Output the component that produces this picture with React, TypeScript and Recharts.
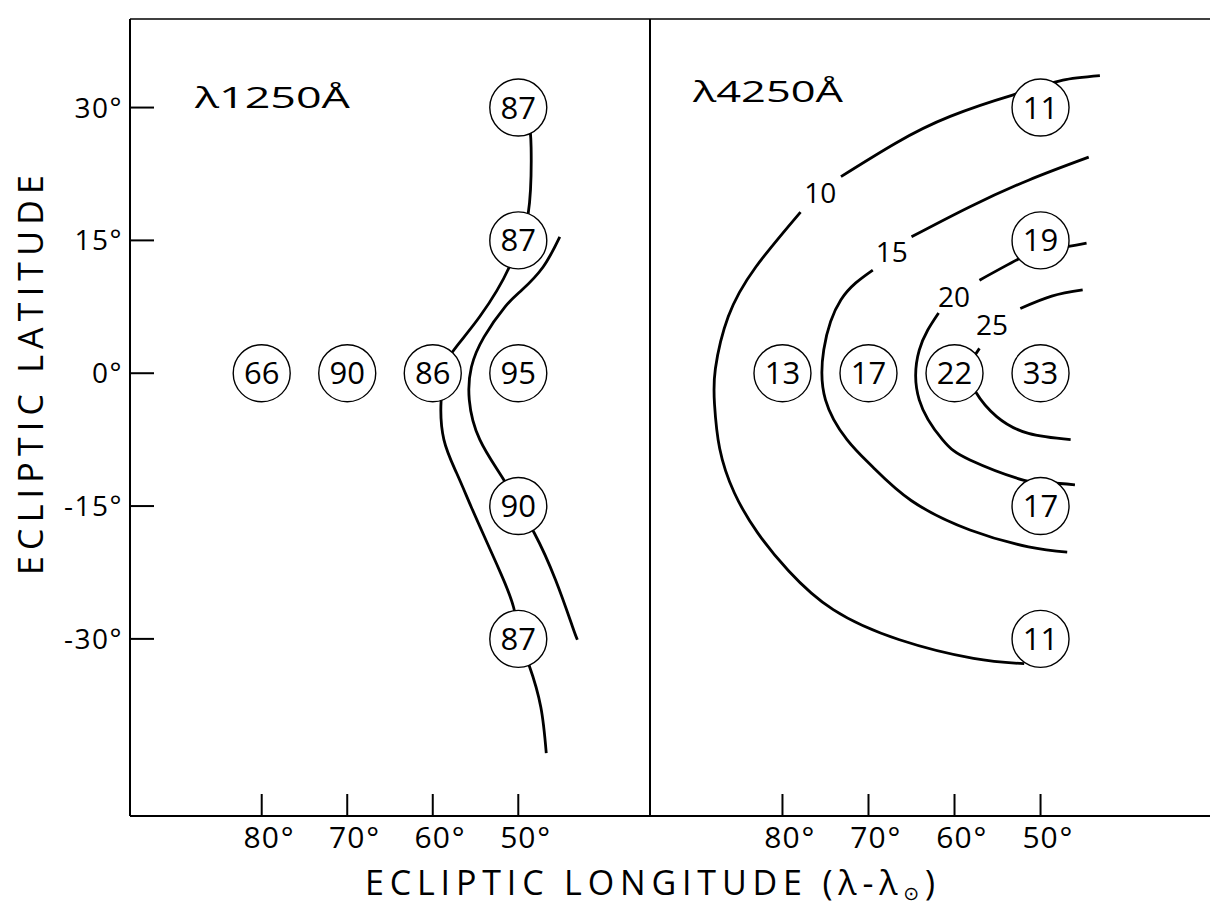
import React from 'react';
import { ComposedChart, Line, Scatter, XAxis, YAxis, ReferenceLine } from 'recharts';

const FONT = "'Open Sans', 'DejaVu Sans', sans-serif";

// axes
const latTicks = [30, 15, 0, -15, -30];
const lonTicks = [80, 70, 60, 50];
const latDomain = [-50, 40];
const lonDomainLeft = [34.6, 95.4];
const lonDomainRight = [30.3, 95.4];

// text
const panelTitles = ['λ1250Å', 'λ4250Å'];
const xTitle = 'ECLIPTIC LONGITUDE (λ-λ';
const xTitleSub = '⊙';
const yTitle = 'ECLIPTIC LATITUDE';

// λ1250Å panel: circled values
const uvValues = [
  { lon: 50, lat: 30, v: 87 },
  { lon: 50, lat: 15, v: 87 },
  { lon: 80, lat: 0, v: 66 },
  { lon: 70, lat: 0, v: 90 },
  { lon: 60, lat: 0, v: 86 },
  { lon: 50, lat: 0, v: 95 },
  { lon: 50, lat: -15, v: 90 },
  { lon: 50, lat: -30, v: 87 },
];

// λ1250Å panel: contour curves
const uvCurveA = [
  { lon: 48.8, lat: 28.5 },
  { lon: 48.5, lat: 25.5 },
  { lon: 48.84, lat: 18.05 },
  { lon: 50.0, lat: 15 },
  { lon: 51.05, lat: 12.0 },
  { lon: 54.5, lat: 6.4 },
  { lon: 57.7, lat: 2.4 },
  { lon: 58.6, lat: 0 },
  { lon: 59.03, lat: -3.2 },
  { lon: 58.7, lat: -7.5 },
  { lon: 57.2, lat: -11.3 },
  { lon: 55.5, lat: -15.1 },
  { lon: 53.8, lat: -18.8 },
  { lon: 52.05, lat: -22.6 },
  { lon: 50.56, lat: -26.4 },
  { lon: 49.8, lat: -30 },
  { lon: 48.7, lat: -33.1 },
  { lon: 47.37, lat: -37.7 },
  { lon: 46.73, lat: -42.9 },
];

const uvCurveB = [
  { lon: 45.15, lat: 15.4 },
  { lon: 47.1, lat: 12.0 },
  { lon: 49.58, lat: 9.4 },
  { lon: 51.55, lat: 7.5 },
  { lon: 54.0, lat: 4.1 },
  { lon: 55.48, lat: 0.7 },
  { lon: 55.73, lat: -3.0 },
  { lon: 54.5, lat: -7.5 },
  { lon: 51.79, lat: -11.9 },
  { lon: 50.0, lat: -15 },
  { lon: 48.1, lat: -18.1 },
  { lon: 45.64, lat: -23.35 },
  { lon: 43.67, lat: -28.6 },
  { lon: 43.09, lat: -30.1 },
];

// λ4250Å panel: circled values
const visValues = [
  { lon: 50, lat: 30, v: 11 },
  { lon: 50, lat: 15, v: 19 },
  { lon: 80, lat: 0, v: 13 },
  { lon: 70, lat: 0, v: 17 },
  { lon: 60, lat: 0, v: 22 },
  { lon: 50, lat: 0, v: 33 },
  { lon: 50, lat: -15, v: 17 },
  { lon: 50, lat: -30, v: 11 },
];

// λ4250Å panel: contour levels (split where the level label sits)
const vis10a = [
  { lon: 43.1, lat: 33.6 },
  { lon: 47.4, lat: 33.1 },
  { lon: 50.0, lat: 32.3 },
  { lon: 53.25, lat: 31.4 },
  { lon: 60.5, lat: 29.0 },
  { lon: 66.8, lat: 26.0 },
  { lon: 73.2, lat: 22.2 },
];
const vis10b = [
  { lon: 77.9, lat: 18.2 },
  { lon: 83.1, lat: 12.0 },
  { lon: 86.3, lat: 6.4 },
  { lon: 87.8, lat: 0.5 },
  { lon: 87.9, lat: -3.5 },
  { lon: 87.3, lat: -8.5 },
  { lon: 85.6, lat: -13.5 },
  { lon: 82.9, lat: -18.0 },
  { lon: 79.3, lat: -22.3 },
  { lon: 74.1, lat: -26.7 },
  { lon: 66.4, lat: -30.1 },
  { lon: 57.8, lat: -32.2 },
  { lon: 51.9, lat: -32.8 },
];
const vis15a = [
  { lon: 44.4, lat: 24.4 },
  { lon: 51.4, lat: 21.8 },
  { lon: 58.2, lat: 18.8 },
  { lon: 65.0, lat: 15.4 },
];
const vis15b = [
  { lon: 69.5, lat: 11.65 },
  { lon: 73.2, lat: 8.3 },
  { lon: 75.2, lat: 2.65 },
  { lon: 75.0, lat: -3.0 },
  { lon: 72.5, lat: -7.5 },
  { lon: 69.5, lat: -10.6 },
  { lon: 65.0, lat: -14.4 },
  { lon: 58.2, lat: -17.7 },
  { lon: 51.4, lat: -19.6 },
  { lon: 46.9, lat: -20.2 },
];
const vis20a = [
  { lon: 44.65, lat: 14.7 },
  { lon: 46.9, lat: 14.3 },
  { lon: 50.0, lat: 13.8 },
  { lon: 52.35, lat: 13.0 },
  { lon: 57.1, lat: 10.5 },
];
const vis20b = [
  { lon: 61.85, lat: 6.8 },
  { lon: 64.1, lat: 2.6 },
  { lon: 64.1, lat: -3.0 },
  { lon: 61.4, lat: -7.5 },
  { lon: 58.2, lat: -9.8 },
  { lon: 51.9, lat: -12.1 },
  { lon: 49.0, lat: -12.4 },
  { lon: 46.0, lat: -12.6 },
];
const vis25a = [
  { lon: 45.1, lat: 9.4 },
  { lon: 48.7, lat: 8.7 },
  { lon: 52.35, lat: 7.3 },
];
const vis25b = [
  { lon: 57.1, lat: 2.8 },
  { lon: 58.3, lat: 0.5 },
  { lon: 57.55, lat: -2.1 },
  { lon: 55.1, lat: -4.9 },
  { lon: 51.4, lat: -6.8 },
  { lon: 46.5, lat: -7.5 },
];
const visLevelLabels = [
  { lon: 75.6, lat: 20.4, v: 10 },
  { lon: 67.3, lat: 13.7, v: 15 },
  { lon: 60.05, lat: 8.6, v: 20 },
  { lon: 55.65, lat: 5.4, v: 25 },
];

const YTick = (props: any) => {
  const { x, y, payload } = props;
  return (
    <g>
      <line x1={x + 6} x2={x + 30} y1={y} y2={y} stroke="#000" strokeWidth={2} />
      <text x={x - 1} y={y + 10} textAnchor="end" fontFamily={FONT} fontSize={28} fill="#000" letterSpacing={1.5}>
        {`${payload.value}°`}
      </text>
    </g>
  );
};

const XTick = (props: any) => {
  const { x, y, payload } = props;
  return (
    <g>
      <line x1={x} x2={x} y1={y} y2={y - 22} stroke="#000" strokeWidth={2} />
      <text x={x} y={y + 32} textAnchor="middle" fontFamily={FONT} fontSize={30} fill="#000" letterSpacing={1}>
        {payload.value}
      </text>
      <text x={x + 19} y={y + 32} textAnchor="start" fontFamily={FONT} fontSize={30} fill="#000">
        °
      </text>
    </g>
  );
};

const Bubble = (props: any) => {
  const { cx, cy, payload } = props;
  if (cx == null || cy == null) return null;
  return (
    <g>
      <ellipse cx={cx} cy={cy} rx={28.5} ry={28.5} fill="#fff" stroke="#000" strokeWidth={1.4} />
      <text x={cx} y={cy + 11} textAnchor="middle" fontFamily={FONT} fontSize={31} fill="#000">
        {payload.v}
      </text>
    </g>
  );
};

const LevelLabel = (props: any) => {
  const { cx, cy, payload } = props;
  if (cx == null || cy == null) return null;
  return (
    <text x={cx} y={cy + 10} textAnchor="middle" fontFamily={FONT} fontSize={28} fill="#000">
      {payload.v}
    </text>
  );
};

const lineProps = {
  dataKey: 'lat',
  type: 'natural' as const,
  stroke: '#000',
  strokeWidth: 2.8,
  dot: false,
  activeDot: false,
  isAnimationActive: false,
  legendType: 'none' as const,
};

const H = 907;

export default function App() {
  return (
    <div style={{ position: 'absolute', left: 0, top: 0, width: 1210, height: H, background: '#fff', overflow: 'hidden' }}>
      {/* Left panel: λ1250Å */}
      <div style={{ position: 'absolute', left: 0, top: 0 }}>
        <ComposedChart width={652} height={H} margin={{ top: 19, right: 2, left: 70, bottom: 31 }}>
          <XAxis
            dataKey="lon"
            type="number"
            domain={lonDomainLeft}
            allowDataOverflow
            reversed
            ticks={lonTicks}
            interval={0}
            tickSize={0}
            tickMargin={0}
            tickLine={false}
            tick={XTick}
            axisLine={{ stroke: '#000', strokeWidth: 2 }}
            height={60}
          />
          <YAxis
            dataKey="lat"
            type="number"
            domain={latDomain}
            allowDataOverflow
            ticks={latTicks}
            interval={0}
            tickSize={0}
            tickMargin={6}
            tickLine={false}
            tick={YTick}
            axisLine={{ stroke: '#000', strokeWidth: 2 }}
            width={60}
          />
          <ReferenceLine y={40} stroke="#000" strokeWidth={1.5} />
          <ReferenceLine x={lonDomainLeft[0]} stroke="#000" strokeWidth={2} />
          <Line {...lineProps} data={uvCurveA} />
          <Line {...lineProps} data={uvCurveB} />
          <Scatter data={uvValues} shape={Bubble} isAnimationActive={false} legendType="none" />
        </ComposedChart>
      </div>

      {/* Right panel: λ4250Å */}
      <div style={{ position: 'absolute', left: 650, top: 0 }}>
        <ComposedChart width={560} height={H} margin={{ top: 19, right: 0, left: 0, bottom: 31 }}>
          <XAxis
            dataKey="lon"
            type="number"
            domain={lonDomainRight}
            allowDataOverflow
            reversed
            ticks={lonTicks}
            interval={0}
            tickSize={0}
            tickMargin={0}
            tickLine={false}
            tick={XTick}
            axisLine={{ stroke: '#000', strokeWidth: 2 }}
            height={60}
          />
          <YAxis dataKey="lat" type="number" domain={latDomain} allowDataOverflow hide width={0} />
          <ReferenceLine y={40} stroke="#000" strokeWidth={1.5} />
          <Line {...lineProps} data={vis10a} />
          <Line {...lineProps} data={vis10b} />
          <Line {...lineProps} data={vis15a} />
          <Line {...lineProps} data={vis15b} />
          <Line {...lineProps} data={vis20a} />
          <Line {...lineProps} data={vis20b} />
          <Line {...lineProps} data={vis25a} />
          <Line {...lineProps} data={vis25b} />
          <Scatter data={visLevelLabels} shape={LevelLabel} isAnimationActive={false} legendType="none" />
          <Scatter data={visValues} shape={Bubble} isAnimationActive={false} legendType="none" />
        </ComposedChart>
      </div>

      {/* Titles */}
      <svg width={1210} height={H} style={{ position: 'absolute', left: 0, top: 0, pointerEvents: 'none' }}>
        <text x={195} y={108} fontFamily={FONT} fontSize={29} fill="#000" textLength={155} lengthAdjust="spacingAndGlyphs">
          {panelTitles[0]}
        </text>
        <text x={693} y={102} fontFamily={FONT} fontSize={29} fill="#000" textLength={150} lengthAdjust="spacingAndGlyphs">
          {panelTitles[1]}
        </text>
        <text x={365} y={895} fontFamily={FONT} fontSize={34} fill="#000" textLength={570} lengthAdjust="spacing">
          {xTitle}
          <tspan fontSize={19} dy={5}>{xTitleSub}</tspan>
          <tspan dy={-5}>)</tspan>
        </text>
        <text
          x={43}
          y={575}
          transform="rotate(-90, 43, 575)"
          fontFamily={FONT}
          fontSize={34}
          fill="#000"
          textLength={400}
          lengthAdjust="spacing"
        >
          {yTitle}
        </text>
      </svg>
    </div>
  );
}
